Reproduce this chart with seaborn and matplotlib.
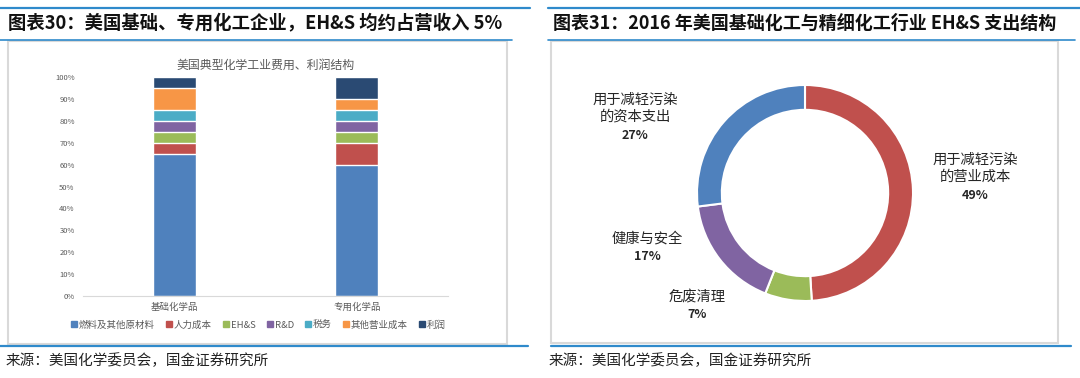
import numpy as np
import pandas as pd
import seaborn as sns
import matplotlib.pyplot as plt
from matplotlib.lines import Line2D
from matplotlib.patches import Rectangle

# data
categories = ['基础化学品', '专用化学品']
series_names = ['燃料及其他原材料', '人力成本', 'EH&S', 'R&D', '税务', '其他营业成本', '利润']
basic_vals = [65, 5, 5, 5, 5, 10, 5]
special_vals = [60, 10, 5, 5, 5, 5, 10]
bar_colors = ['#4F81BD', '#C0504D', '#9BBB59', '#8064A2', '#4BACC6', '#F79646', '#2A4A73']

donut_labels = ['用于减轻污染\n的营业成本', '危废清理', '健康与安全', '用于减轻污染\n的资本支出']
donut_vals = [49, 7, 17, 27]
donut_colors = ['#C0504D', '#9BBB59', '#8064A2', '#4F81BD']

sns.set_theme(style="white")
plt.rcParams['font.family'] = ['Noto Sans CJK SC', 'DejaVu Sans']

W, H = 1080, 378
fig = plt.figure(figsize=(W / 100, H / 100), dpi=100)


def fx(x):
    return x / W


def fy(y):
    return 1 - y / H


blue = '#2F8ACB'
frame = '#D9D9D9'

# panel decorations
for x0, x1 in [(0, 530), (548, 1080)]:
    fig.add_artist(Line2D([fx(x0), fx(x1)], [fy(8), fy(8)], color=blue, lw=1.6))
fig.add_artist(Line2D([fx(0), fx(512)], [fy(40), fy(40)], color=blue, lw=1.2))
fig.add_artist(Line2D([fx(548), fx(1075)], [fy(40), fy(40)], color=blue, lw=1.2))
fig.add_artist(Rectangle((fx(8), fy(344)), fx(507) - fx(8), fy(41) - fy(344),
                         fill=False, ec=frame, lw=1.5))
fig.add_artist(Rectangle((fx(551), fy(343)), fx(1058) - fx(551), fy(41) - fy(343),
                         fill=False, ec=frame, lw=1.5))
fig.add_artist(Line2D([fx(0), fx(528)], [fy(346), fy(346)], color=blue, lw=1.6))
fig.add_artist(Line2D([fx(551), fx(1071)], [fy(346), fy(346)], color=blue, lw=1.6))

fig.text(fx(8), fy(23), '图表30：美国基础、专用化工企业，EH&S 均约占营收入 5%',
         fontsize=13.2, fontweight='bold', fontstyle='italic', va='center', color='#111111')
fig.text(fx(553), fy(23), '图表31：2016 年美国基础化工与精细化工行业 EH&S 支出结构',
         fontsize=13.0, fontweight='bold', fontstyle='italic', va='center', color='#111111')
fig.text(fx(6), fy(361), '来源：美国化学委员会，国金证券研究所', fontsize=10.5,
         va='center', color='#222222')
fig.text(fx(549), fy(361), '来源：美国化学委员会，国金证券研究所', fontsize=10.5,
         va='center', color='#222222')

# ---- left: stacked bars ----
ax = fig.add_axes([fx(83), fy(296), fx(448) - fx(83), fy(77) - fy(296)])
df = pd.DataFrame({'类别': categories * len(series_names),
                   '系列': np.repeat(series_names, 2),
                   '值': np.ravel(np.column_stack([basic_vals, special_vals]))})
df['累计'] = df.groupby('类别')['值'].cumsum()
# draw tallest cumulative first so lower layers sit on top
for name, col in reversed(list(zip(series_names, bar_colors))):
    sub = df[df['系列'] == name]
    sns.barplot(data=sub, x='类别', y='累计', color=col, width=0.235,
                saturation=1, ax=ax, order=categories)
ax.set_ylim(0, 100)
ax.set_xlim(-0.5, 1.5)
ax.set_yticks(range(0, 101, 10))
ax.set_yticklabels([f'{v}%' for v in range(0, 101, 10)])
ax.tick_params(axis='y', labelsize=5.5, labelcolor='#595959', length=0, pad=6)
ax.tick_params(axis='x', labelsize=6.8, labelcolor='#595959', length=0, pad=5)
ax.set_xlabel('')
ax.set_ylabel('')
for s in ['top', 'right', 'left']:
    ax.spines[s].set_visible(False)
ax.spines['bottom'].set_color('#D9D9D9')
ax.spines['bottom'].set_linewidth(0.8)
ax.set_title('美国典型化学工业费用、利润结构', fontsize=8.6, color='#595959', pad=6)

handles = [Line2D([], [], marker='s', ls='', color=c, markersize=4) for c in bar_colors]
fig.legend(handles, series_names, loc='center', bbox_to_anchor=(fx(258), fy(325)),
           ncol=7, frameon=False, fontsize=6.8, labelcolor='#595959',
           handletextpad=0.1, columnspacing=1.1, handlelength=0.8)

# ---- right: donut ----
ax2 = fig.add_axes([fx(805 - 108), fy(193 + 108), fx(216), 216 / H])
wedges, _ = ax2.pie(donut_vals, colors=donut_colors, startangle=90, counterclock=False,
                    radius=1, wedgeprops=dict(width=0.23, edgecolor='white', linewidth=1.5))
ax2.set_xlim(-1, 1)
ax2.set_ylim(-1, 1)
ax2.set_aspect('equal')
ax2.axis('off')

# label name block and bold percent underneath
label_pos = [(975, 168), (697, 297), (647, 238), (635, 108)]
for (lx, ly), lab, v in zip(label_pos, donut_labels, donut_vals):
    n_lines = lab.count('\n') + 1
    fig.text(fx(lx), fy(ly), lab, ha='center', va='center', fontsize=10.3,
             color='#262626', linespacing=1.3)
    fig.text(fx(lx), fy(ly + 9 * n_lines + 9), f'{v}%', ha='center', va='center',
             fontsize=9, fontweight='bold', color='#262626')

fig.savefig('out.png', dpi=100)
